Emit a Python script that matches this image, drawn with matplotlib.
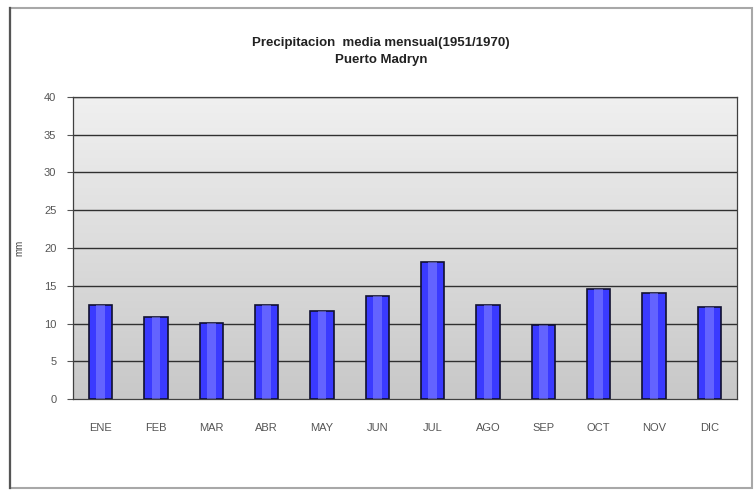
import matplotlib
matplotlib.use("Agg")
import matplotlib.pyplot as plt
import numpy as np
from matplotlib.patches import Rectangle

months = ["ENE", "FEB", "MAR", "ABR", "MAY", "JUN", "JUL", "AGO", "SEP", "OCT", "NOV", "DIC"]
precip = [12.4, 10.8, 10.1, 12.4, 11.6, 13.6, 18.1, 12.4, 9.8, 14.6, 14.0, 12.2]
yticks = [0, 5, 10, 15, 20, 25, 30, 35, 40]

plt.rcParams['font.family'] = ['Liberation Sans', 'DejaVu Sans']

fig = plt.figure(figsize=(7.54, 4.90), dpi=100)
fig.patch.set_facecolor("white")

# outer chart border
fig.add_artist(Rectangle((10/754, 2/490), 742/754, 480/490, transform=fig.transFigure,
                         fill=False, edgecolor="#a8a8a8", linewidth=1.5))
fig.add_artist(plt.Line2D([10/754, 10/754], [2/490, 482/490], transform=fig.transFigure,
                          color="#555555", linewidth=1.6))

ax = fig.add_axes([73/754, 91/490, 664/754, 302/490])
x = np.arange(len(months))
ax.set_xlim(-0.5, len(months) - 0.5)
ax.set_ylim(0, 40)

# gradient background
grad = np.linspace(0, 1, 256).reshape(-1, 1)
cmap = matplotlib.colors.LinearSegmentedColormap.from_list("bg", ["#c8c8c8", "#f0f0f0"])
ax.imshow(grad, aspect="auto", cmap=cmap, origin="lower",
          extent=[-0.5, len(months) - 0.5, 0, 40], zorder=0)

for t in yticks[1:]:
    ax.axhline(t, color="#303030", linewidth=1.0, zorder=1)

bars = ax.bar(x, precip, width=0.42, color="#3a3aff", edgecolor="#101030",
              linewidth=1.2, zorder=3)
# highlight inside bars
ax.bar(x, precip, width=0.16, color="#8c8cff", linewidth=0, zorder=4, alpha=0.5)

ax.set_yticks(yticks)
ax.set_xticks(x)
ax.set_xticklabels(months)
ax.tick_params(axis="both", colors="#555555", labelsize=8, length=4, width=0.8)
ax.tick_params(axis="y", pad=8)
ax.tick_params(axis="x", length=0, pad=17)
for lab in ax.get_xticklabels() + ax.get_yticklabels():
    lab.set_color("#555555")

for s in ["left", "bottom", "top", "right"]:
    ax.spines[s].set_color("#404040")
    ax.spines[s].set_linewidth(0.9)

ax.set_ylabel("mm", fontsize=7, color="#444444", labelpad=14)

fig.text(0.505, 1 - 43/490, "Precipitacion  media mensual(1951/1970)", ha="center",
         va="center", fontsize=9.5, fontweight="bold", color="#222222")
fig.text(0.505, 1 - 60/490, "Puerto Madryn", ha="center", va="center",
         fontsize=9.5, fontweight="bold", color="#222222")

fig.savefig("out.png", dpi=100)
